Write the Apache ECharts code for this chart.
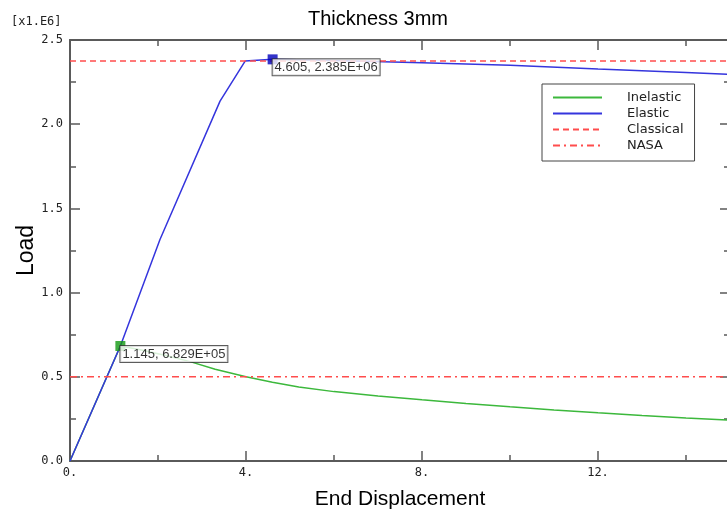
<!DOCTYPE html>
<html>
<head>
    <meta charset="utf-8">
    <title>Thickness 3mm</title>
    <script src="https://cdn.jsdelivr.net/npm/echarts@6.0.0/dist/echarts.min.js"></script>
    <style>
        body { margin: 0; background: #fff; }
        #chart { width: 727px; height: 512px; }
    </style>
</head>
<body>
    <div id="chart"></div>
    <script>
        // 数据 (载荷单位 x1.E6)
        var inelasticX = [0, 1.145, 1.6, 2.2, 2.73, 3.3, 4, 4.6, 5.2, 6, 7, 8, 9, 10, 11, 12, 13, 14, 15];
        var inelasticY = [0, 0.6829, 0.66, 0.625, 0.59, 0.545, 0.5, 0.468, 0.44, 0.412, 0.386, 0.363, 0.342, 0.322, 0.303, 0.286, 0.27, 0.256, 0.243];
        var elasticX = [0, 1.145, 2.045, 3.41, 3.98, 4.605, 6, 8, 10, 12, 14, 15];
        var elasticY = [0, 0.6829, 1.315, 2.137, 2.375, 2.385, 2.378, 2.365, 2.35, 2.328, 2.307, 2.296];
        var classicalY = 2.375;
        var nasaY = 0.5;
        var xRange = [0, 15];
        var peakInelastic = [1.145, 0.6829, '1.145, 6.829E+05'];
        var peakElastic = [4.605, 2.385, '4.605, 2.385E+06'];

        function pairs(xs, ys) {
            return xs.map(function (x, i) { return [x, ys[i]]; });
        }

        var chart = echarts.init(document.getElementById('chart'));

        var axisColor = '#5a5a5a';
        var tickFont = { fontFamily: 'DejaVu Sans Mono', fontSize: 12, color: '#222' };

        function xAxisCfg(pos, showLabel) {
            return {
                type: 'value', position: pos, min: xRange[0], max: xRange[1], interval: 4,
                axisLine: { show: true, onZero: false, lineStyle: { color: axisColor, width: 2 } },
                axisTick: { show: true, inside: true, length: 10, lineStyle: { color: axisColor, width: 1.5 } },
                minorTick: { show: true, splitNumber: 2, length: 6, lineStyle: { color: axisColor, width: 1.5 } },
                splitLine: { show: false },
                axisLabel: Object.assign({ show: showLabel, margin: 6, showMaxLabel: false,
                    formatter: function (v) { return v + '.'; } }, tickFont)
            };
        }

        function yAxisCfg(pos, showLabel) {
            return {
                type: 'value', position: pos, min: 0, max: 2.5, interval: 0.5,
                axisLine: { show: true, onZero: false, lineStyle: { color: axisColor, width: 2 } },
                axisTick: { show: true, inside: true, length: 10, lineStyle: { color: axisColor, width: 1.5 } },
                minorTick: { show: true, splitNumber: 2, length: 6, lineStyle: { color: axisColor, width: 1.5 } },
                splitLine: { show: false },
                axisLabel: Object.assign({ show: showLabel, margin: 7,
                    formatter: function (v) { return v.toFixed(1); } }, tickFont)
            };
        }

        var xBottom = xAxisCfg('bottom', true);
        xBottom.name = 'End Displacement';
        xBottom.nameLocation = 'middle';
        xBottom.nameGap = 28;
        xBottom.nameTextStyle = { fontFamily: 'Liberation Sans', fontSize: 21, color: '#000' };

        var yLeft = yAxisCfg('left', true);
        yLeft.name = 'Load';
        yLeft.nameLocation = 'middle';
        yLeft.nameGap = 32;
        yLeft.nameMoveOverlap = false;
        yLeft.nameTextStyle = { fontFamily: 'Liberation Sans', fontSize: 23, color: '#000' };

        var labelStyle = {
            show: true, position: [5, 5], align: 'left', verticalAlign: 'top',
            backgroundColor: '#fff', borderColor: '#333', borderWidth: 1,
            padding: [2, 2, 1, 2], fontFamily: 'Liberation Sans', fontSize: 13, color: '#000',
            formatter: function (p) { return p.data[2]; }
        };

        var option = {
            animation: false,
            backgroundColor: '#fff',
            title: {
                text: 'Thickness 3mm', left: 378, top: 9, textAlign: 'center', padding: 0,
                textStyle: { fontFamily: 'Liberation Sans', fontSize: 20, fontWeight: 'normal', color: '#000' }
            },
            graphic: [{
                type: 'text', left: 11, top: 16,
                style: { text: '[x1.E6]', font: '12px "DejaVu Sans Mono"', fill: '#222' }
            }],
            legend: {
                orient: 'vertical', left: 542, top: 84,
                padding: [7, 11, 9, 10], itemGap: 3, itemWidth: 49, itemHeight: 14,
                backgroundColor: '#fff', borderColor: '#444', borderWidth: 1,
                itemStyle: { opacity: 0 },
                textStyle: { fontFamily: 'DejaVu Sans', fontSize: 13, color: '#222', padding: [0, 0, 0, 20] },
                data: ['Inelastic', 'Elastic', 'Classical', 'NASA']
            },
            grid: { left: 70, right: -3, top: 40, bottom: 51, outerBoundsMode: 'none' },
            xAxis: [xBottom, xAxisCfg('top', false)],
            yAxis: [yLeft, yAxisCfg('right', false)],
            series: [
                {
                    name: 'Inelastic', type: 'line', symbol: 'none',
                    lineStyle: { color: '#3cb83c', width: 1.5 }, itemStyle: { color: '#3cb83c' },
                    data: pairs(inelasticX, inelasticY)
                },
                {
                    name: 'Elastic', type: 'line', symbol: 'none',
                    lineStyle: { color: '#3535dd', width: 1.5 }, itemStyle: { color: '#3535dd' },
                    data: pairs(elasticX, elasticY)
                },
                {
                    name: 'Classical', type: 'line', symbol: 'none',
                    lineStyle: { color: '#ff4d4d', width: 1.5, type: [6, 4] }, itemStyle: { color: '#ff4d4d' },
                    data: [[xRange[0], classicalY], [xRange[1], classicalY]]
                },
                {
                    name: 'NASA', type: 'line', symbol: 'none',
                    lineStyle: { color: '#ff4d4d', width: 1.5, type: [7, 4, 2, 4] }, itemStyle: { color: '#ff4d4d' },
                    data: [[xRange[0], nasaY], [xRange[1], nasaY]]
                },
                {
                    type: 'scatter', symbol: 'rect', symbolSize: 10, z: 10,
                    itemStyle: { color: '#119911' }, label: labelStyle,
                    data: [peakInelastic]
                },
                {
                    type: 'scatter', symbol: 'rect', symbolSize: 10, z: 10,
                    itemStyle: { color: '#0000bb' }, label: labelStyle,
                    data: [peakElastic]
                }
            ]
        };

        chart.setOption(option);
    </script>
</body>
</html>
